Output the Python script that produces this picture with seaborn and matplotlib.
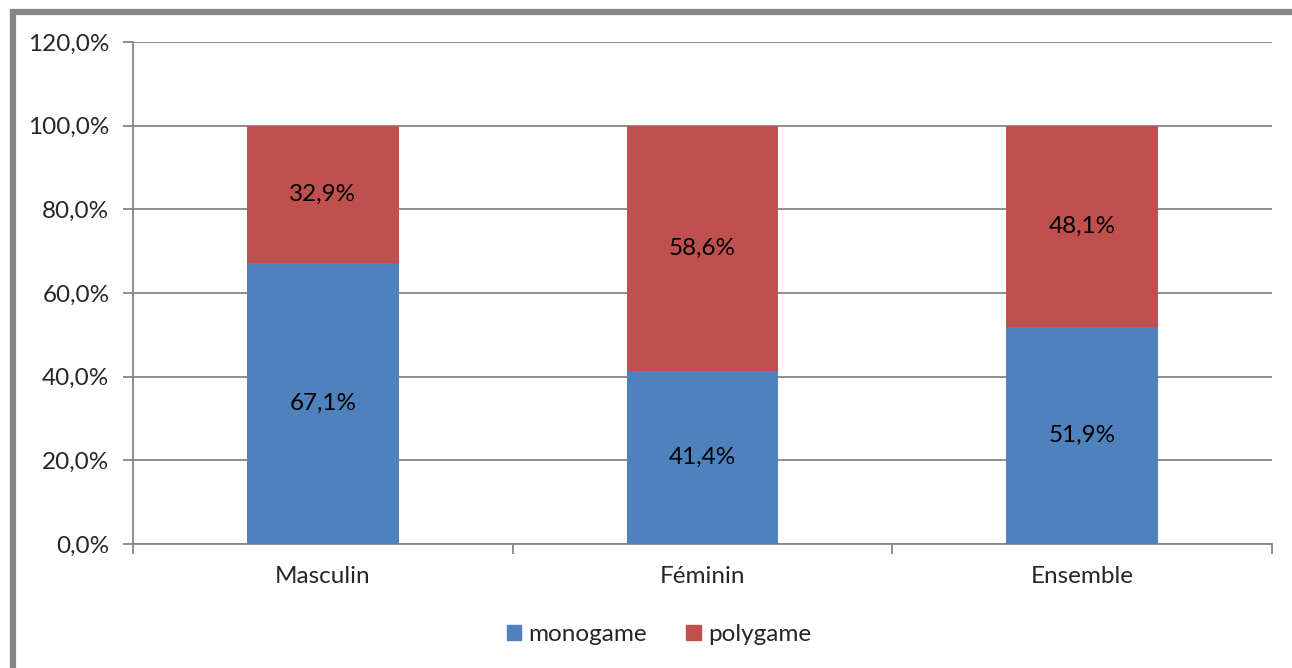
import numpy as np
import pandas as pd
import matplotlib
matplotlib.use('Agg')
import matplotlib.pyplot as plt
import seaborn as sns
from matplotlib.patches import Rectangle

# données
categories = ['Masculin', 'Féminin', 'Ensemble']
monogame = [67.1, 41.4, 51.9]
polygame = [32.9, 58.6, 48.1]
yticks = [0, 20, 40, 60, 80, 100, 120]

bleu = '#4F81BD'
rouge = '#C0504D'
gris = '#868686'
taille = 17.5

sns.set_style('white')
plt.rcParams['font.family'] = ['Lato', 'DejaVu Sans']

df = pd.DataFrame({'cat': categories, 'mono': monogame, 'poly': polygame})
df['total'] = df['mono'] + df['poly']

fig = plt.figure(figsize=(12.92, 6.68), dpi=100)
ax = fig.add_axes([0.103, 0.1856, 0.8815, 0.7514])

# empilement : total en rouge, puis monogame en bleu par-dessus
sns.barplot(data=df, x='cat', y='total', color=rouge, width=0.4, saturation=1,
            linewidth=0, ax=ax, zorder=3)
sns.barplot(data=df, x='cat', y='mono', color=bleu, width=0.4, saturation=1,
            linewidth=0, ax=ax, zorder=4)

for i in range(len(categories)):
    ax.text(i, monogame[i] / 2, f'{monogame[i]:.1f}%'.replace('.', ','),
            ha='center', va='center', fontsize=taille, color='black', zorder=5)
    ax.text(i, monogame[i] + polygame[i] / 2, f'{polygame[i]:.1f}%'.replace('.', ','),
            ha='center', va='center', fontsize=taille, color='black', zorder=5)

ax.set_xlim(-0.5, 2.5)
ax.set_ylim(0, 120)
ax.set_yticks(yticks)
ax.set_yticklabels([f'{v:.1f}%'.replace('.', ',') for v in yticks], fontsize=taille)
ax.set_xticks(range(len(categories)))
ax.set_xticklabels(categories, fontsize=taille)
ax.set_xticks([-0.5, 0.5, 1.5, 2.5], minor=True)
ax.tick_params(axis='x', which='major', length=0, pad=16)
ax.tick_params(axis='x', which='minor', length=7, width=1.3, color=gris, direction='out', bottom=True)
ax.tick_params(axis='y', length=7, width=1.3, color=gris, direction='out', left=True, pad=10)
ax.set_xlabel('')
ax.set_ylabel('')

ax.grid(axis='y', color=gris, linewidth=1.3, zorder=0)
ax.set_axisbelow(True)
for s in ['top', 'right']:
    ax.spines[s].set_visible(False)
for s in ['left', 'bottom']:
    ax.spines[s].set_color(gris)
    ax.spines[s].set_linewidth(1.3)

handles = [Rectangle((0, 0), 1, 1, color=bleu), Rectangle((0, 0), 1, 1, color=rouge)]
fig.legend(handles, ['monogame', 'polygame'], loc='center', bbox_to_anchor=(0.51, 0.05),
           ncol=2, frameon=False, fontsize=taille, handlelength=0.6, handleheight=0.6,
           handletextpad=0.3, columnspacing=1.6)

# cadre gris du graphique
fig.patches.append(Rectangle((12.5 / 1292, -0.1), 1.2, 1 - 12 / 668 + 0.1,
                             transform=fig.transFigure, fill=False,
                             edgecolor=gris, linewidth=4.5, zorder=10))

fig.savefig('out.png', dpi=100)
